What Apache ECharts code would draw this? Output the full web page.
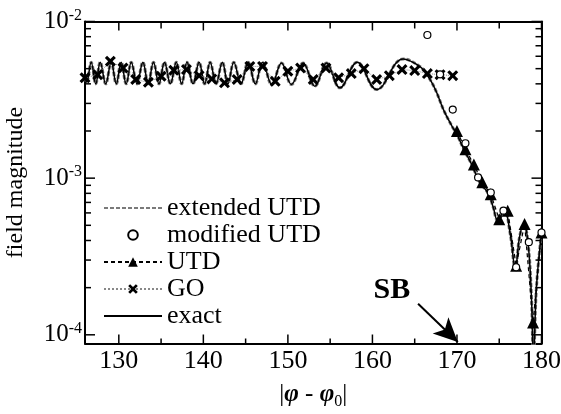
<!DOCTYPE html>
<html><head><meta charset="utf-8">
<script src="https://cdn.jsdelivr.net/npm/echarts@6/dist/echarts.min.js"></script>
<style>html,body{margin:0;padding:0;background:#fff}#c{width:561px;height:414px}</style>
</head><body><div id="c"></div>
<script>
// ---- data ----
const xTicksMajor = [130, 140, 150, 160, 170, 180];
const xTicksMinor = [135, 145, 155, 165, 175];
const yTicksMajor = [1e-4, 1e-3, 1e-2];
const yTicksMinor = [2e-4, 3e-4, 4e-4, 5e-4, 6e-4, 7e-4, 8e-4, 9e-4, 2e-3, 3e-3, 4e-3, 5e-3, 6e-3, 7e-3, 8e-3, 9e-3];

const exactX = [126.0, 126.2, 126.73, 127.27, 127.8, 128.45, 129.1, 129.7, 130.28, 130.87, 131.47, 132.15, 132.85, 133.47, 134.1, 134.75, 135.4, 136.1, 136.8, 137.43, 138.06, 138.78, 139.5, 140.15, 140.8, 141.5, 142.25, 142.9, 143.6, 144.45, 145.3, 146.15, 147.0, 148.1, 149.24, 150.42, 151.8, 153.19, 154.57, 156.15, 158.2, 160.5, 163.65, 165.6, 166.42, 167.0, 167.6, 168.4, 169.4, 170.0, 170.8, 171.75, 172.7, 173.7, 174.3, 174.8, 175.6, 176.3, 176.9, 177.4, 177.9, 178.4, 178.8, 179.05, 179.4, 180.0];
const exactY = [4.4e-3, 4.1e-3, 5.5e-3, 4.0e-3, 5.5e-3, 4.0e-3, 5.5e-3, 4.0e-3, 5.5e-3, 4.0e-3, 5.5e-3, 4.0e-3, 5.5e-3, 4.0e-3, 5.5e-3, 4.0e-3, 5.5e-3, 4.0e-3, 5.5e-3, 4.0e-3, 5.5e-3, 4.0e-3, 5.5e-3, 4.0e-3, 5.5e-3, 4.0e-3, 5.5e-3, 4.0e-3, 5.5e-3, 4.0e-3, 5.5e-3, 4.0e-3, 5.5e-3, 3.95e-3, 5.44e-3, 3.96e-3, 5.44e-3, 3.86e-3, 5.44e-3, 3.77e-3, 5.5e-3, 3.68e-3, 5.77e-3, 5.17e-3, 4.58e-3, 4.1e-3, 3.52e-3, 2.74e-3, 2.15e-3, 1.9e-3, 1.53e-3, 1.22e-3, 9.4e-4, 8.0e-4, 6.5e-4, 5.4e-4, 6.2e-4, 4.4e-4, 2.65e-4, 4.2e-4, 5.1e-4, 3.9e-4, 1.8e-4, 7e-5, 2.0e-4, 4.5e-4];
const extendedY = exactY.slice();

const goX = [126, 127.5, 129, 130.5, 132, 133.5, 135, 136.5, 138, 139.5, 141, 142.5, 144, 145.5, 147, 148.5, 150, 151.5, 153, 154.5, 156, 157.5, 159, 160.5, 162, 163.5, 165, 166.5, 168, 169.5];
const goY = [4.37e-3, 4.58e-3, 5.57e-3, 5.05e-3, 4.26e-3, 4.09e-3, 4.47e-3, 4.88e-3, 4.93e-3, 4.51e-3, 4.30e-3, 4.06e-3, 4.26e-3, 5.17e-3, 5.17e-3, 4.15e-3, 4.81e-3, 5.05e-3, 4.26e-3, 5.05e-3, 4.37e-3, 4.65e-3, 5.00e-3, 4.26e-3, 4.51e-3, 4.93e-3, 4.86e-3, 4.65e-3, 4.58e-3, 4.51e-3];

const modX = [166.5, 168, 169.5, 171, 172.5, 174, 175.5, 177, 178.5, 180];
const modY = [8.2e-3, 4.6e-3, 2.74e-3, 1.67e-3, 1.01e-3, 8.1e-4, 6.2e-4, 2.7e-4, 3.9e-4, 4.5e-4];

const utdX = [170, 171, 172, 173, 174, 175, 176, 177, 178, 179, 180];
const utdY = [2.0e-3, 1.53e-3, 1.22e-3, 9.4e-4, 7.9e-4, 5.47e-4, 6.2e-4, 2.76e-4, 5.1e-4, 1.2e-4, 4.5e-4];

const sbLabel = 'SB';
const sbPos = [162.3, 1.92e-4];
const sbArrowFrom = [165.4, 1.58e-4];
const sbArrowTo = [170.1, 9.0e-5];

// ---- chart ----
const FONT = 'Liberation Serif';
const X_MIN = 126, X_MAX = 180, Y_MIN = 8.8e-5, Y_MAX = 1e-2;
const zip = (xs, ys) => xs.map((x, i) => [x, ys[i]]);

function xAx(pos, main) {
  return {
    type: 'value', min: X_MIN, max: X_MAX, position: pos,
    axisLine: { show: true, onZero: false, lineStyle: { color: '#000', width: 2 } },
    axisTick: { show: false },
    axisLabel: main ? { show: true, customValues: xTicksMajor, color: '#000', fontFamily: FONT, fontSize: 26, margin: 5 } : { show: false },
    splitLine: { show: false },
    name: main ? '|{p|φ} - {p|φ}{sub|0}|' : '',
    nameLocation: 'middle', nameGap: 36,
    nameTextStyle: {
      color: '#000', fontFamily: FONT, fontSize: 25, lineHeight: 30,
      rich: {
        p: { fontFamily: FONT, fontSize: 25, fontStyle: 'italic', fontWeight: 'bold', color: '#000', lineHeight: 30 },
        sub: { fontFamily: FONT, fontSize: 16, color: '#000', verticalAlign: 'bottom', lineHeight: 18 }
      }
    }
  };
}
function yAx(pos, main) {
  return {
    type: 'log', logBase: 10, min: Y_MIN, max: Y_MAX, position: pos,
    axisLine: { show: true, onZero: false, lineStyle: { color: '#000', width: 2 } },
    axisTick: { show: false },
    axisLabel: main ? {
      show: true, customValues: yTicksMajor, margin: 3,
      formatter: v => '{b|10}{s|' + Math.round(Math.log10(v)) + '}',
      rich: {
        b: { fontFamily: FONT, fontSize: 25, color: '#000', lineHeight: 28 },
        s: { fontFamily: FONT, fontSize: 16, color: '#000', verticalAlign: 'top', lineHeight: 18 }
      }
    } : { show: false },
    splitLine: { show: false },
    name: main ? 'field magnitude' : '',
    nameLocation: 'middle', nameGap: 57,
    nameTextStyle: { color: '#000', fontFamily: FONT, fontSize: 24 }
  };
}

// frame ticks drawn at the tick values through the axes' own scales
function tickSeries(values, side, len) {
  const onX = side === 'bottom' || side === 'top';
  const fixed = { bottom: Y_MIN, top: Y_MAX, left: X_MIN, right: X_MAX }[side];
  const dir = { bottom: [0, -1], top: [0, 1], left: [1, 0], right: [-1, 0] }[side];
  return {
    type: 'custom', name: 'tick-' + side, silent: true, clip: false, z: 20,
    data: values.map(v => onX ? [v, fixed] : [fixed, v]),
    renderItem: (params, api) => {
      const p = api.coord([api.value(0), api.value(1)]);
      return { type: 'line', shape: { x1: p[0], y1: p[1], x2: p[0] + dir[0] * len, y2: p[1] + dir[1] * len },
        style: { stroke: '#000', lineWidth: 1.5 } };
    }
  };
}

const chart = echarts.init(document.getElementById('c'), null, { renderer: 'canvas' });
chart.setOption({
  animation: false,
  backgroundColor: '#fff',
  grid: { left: 85, right: 19.5, top: 21.5, bottom: 70.5, containLabel: false, outerBoundsMode: 'none' },
  xAxis: [xAx('bottom', true), xAx('top', false)],
  yAxis: [yAx('left', true), yAx('right', false)],
  legend: {
    orient: 'vertical', left: 103, top: 195, padding: 0, itemGap: 1,
    itemWidth: 58, itemHeight: 12,
    textStyle: { fontFamily: FONT, fontSize: 26, color: '#000', lineHeight: 26 },
    data: ['extended UTD', 'modified UTD', 'UTD', 'GO', 'exact']
  },
  series: [
    { name: 'extended UTD', type: 'line', data: zip(exactX, extendedY), symbol: 'none', smooth: 0.4, z: 2,
      itemStyle: { color: 'rgba(0,0,0,0)' },
      lineStyle: { color: '#7a7a7a', width: 3, type: [4, 2] } },
    { name: 'exact', type: 'line', data: zip(exactX, exactY), symbol: 'none', smooth: 0.4, z: 3,
      itemStyle: { color: 'rgba(0,0,0,0)' },
      lineStyle: { color: '#000', width: 1.5 } },
    { name: 'GO', type: 'line', data: zip(goX, goY), symbol: 'path://M0,2 L2,0 L5,3 L8,0 L10,2 L7,5 L10,8 L8,10 L5,7 L2,10 L0,8 L3,5 Z',
      symbolSize: 11, showSymbol: true, z: 5,
      itemStyle: { color: '#000' }, lineStyle: { color: '#888', width: 1, type: 'dotted' } },
    { name: 'UTD', type: 'line', data: zip(utdX, utdY), symbol: 'triangle', symbolSize: 12, showSymbol: true, z: 6,
      itemStyle: { color: '#000' }, lineStyle: { color: '#000', width: 1.2, type: [4, 3] } },
    { name: 'modified UTD', type: 'line', data: zip(modX, modY), symbol: 'circle', symbolSize: 7, showSymbol: true, z: 7,
      itemStyle: { color: '#fff', borderColor: '#000', borderWidth: 1.2 }, lineStyle: { width: 0, opacity: 0 } },
    { name: 'annotation', type: 'line', data: [], z: 8,
      markLine: { silent: true, symbol: ['none', 'arrow'], symbolSize: [17, 24], animation: false,
        lineStyle: { color: '#000', width: 2, type: 'solid' }, label: { show: false },
        data: [[{ coord: sbArrowFrom }, { coord: sbArrowTo }]] },
      markPoint: { silent: true, symbol: 'circle', symbolSize: 1, itemStyle: { color: 'rgba(0,0,0,0)' },
        label: { show: true, position: 'inside', formatter: sbLabel, fontFamily: FONT, fontWeight: 'bold', fontSize: 30, color: '#000' },
        data: [{ coord: sbPos }] } },
    tickSeries(xTicksMajor, 'bottom', 9),
    tickSeries(xTicksMinor, 'bottom', 5),
    tickSeries(xTicksMajor, 'top', 9),
    tickSeries(xTicksMinor, 'top', 7),
    tickSeries(yTicksMajor, 'left', 10),
    tickSeries(yTicksMinor, 'left', 6),
    tickSeries(yTicksMajor, 'right', 10),
    tickSeries(yTicksMinor, 'right', 6)
  ]
});
</script></body></html>
